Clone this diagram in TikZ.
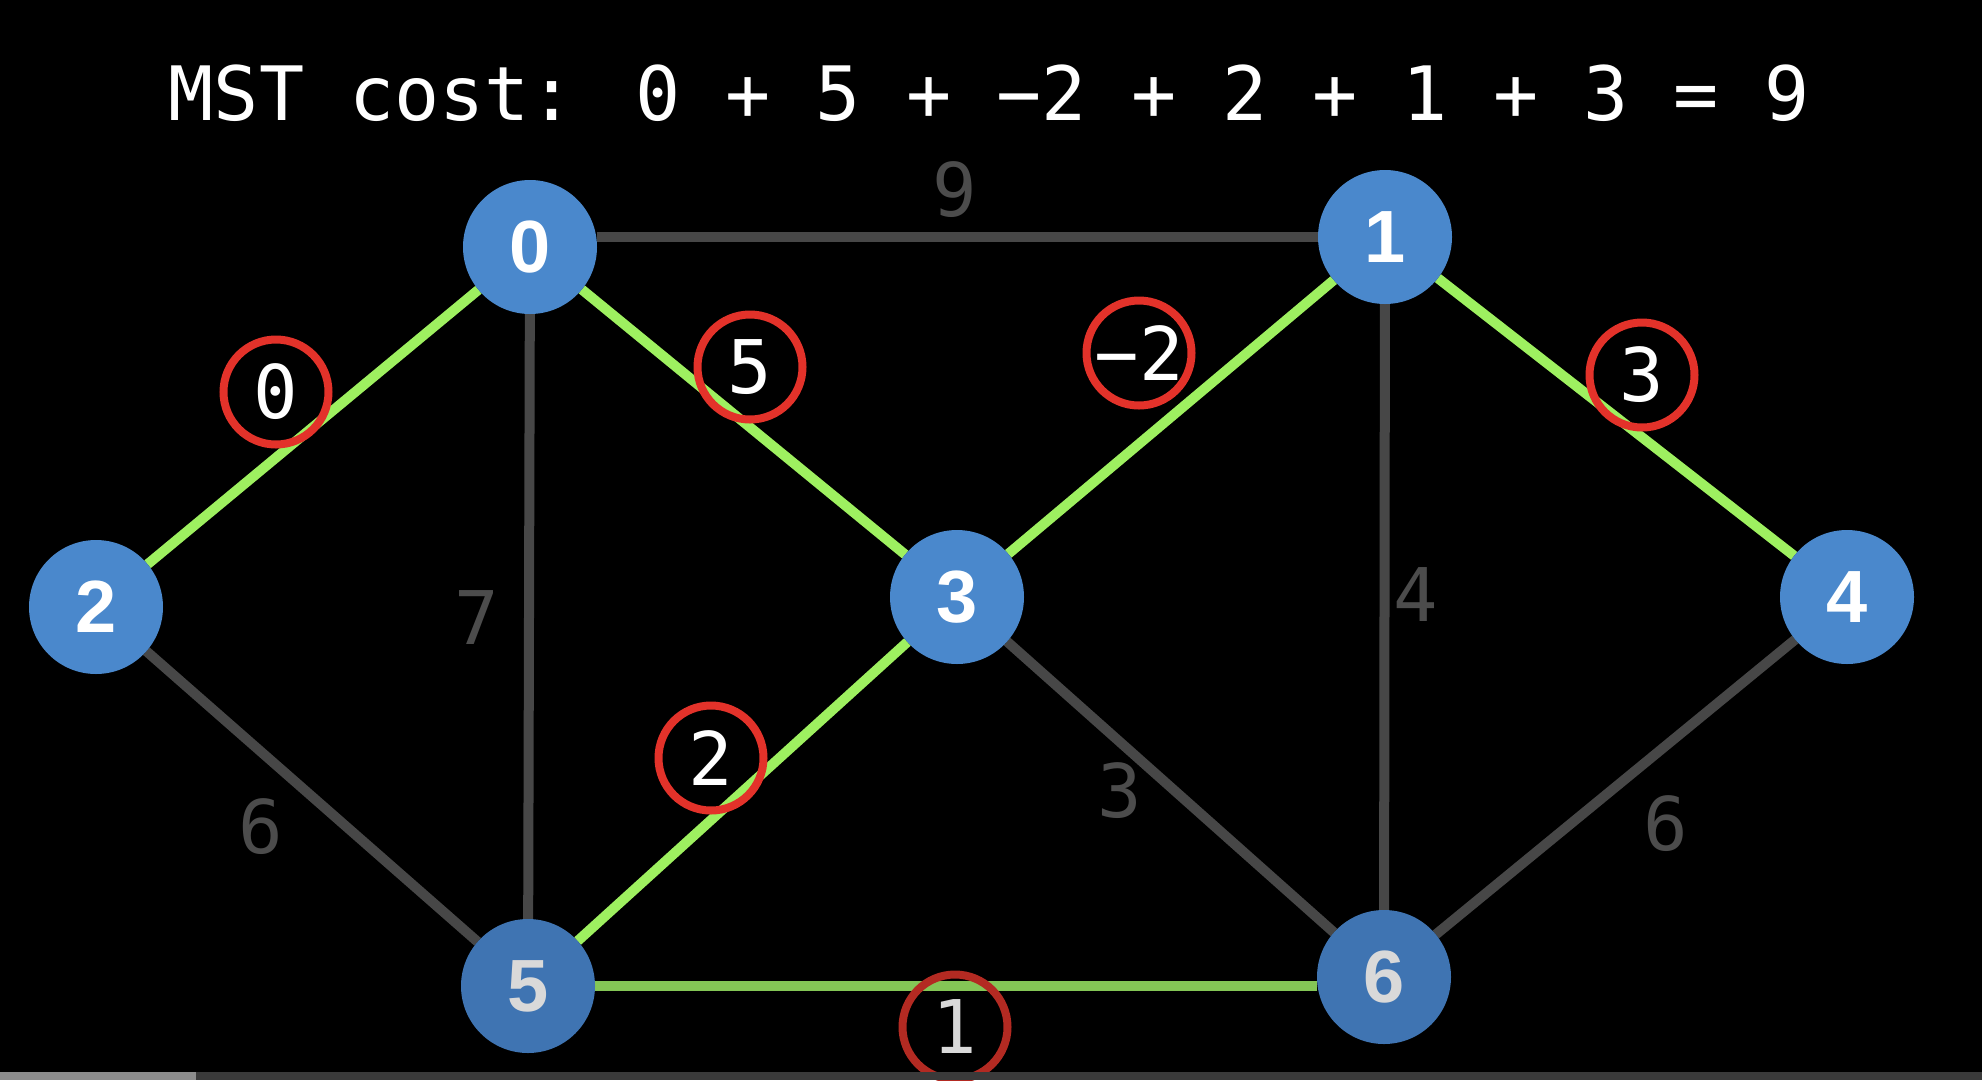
\documentclass[tikz,border=0pt]{standalone}
\usepackage{fontspec}
\newfontfamily\monofont{DejaVu Sans Mono}
\newfontfamily\nodefont{Liberation Sans}
\definecolor{nodeblue}{HTML}{4A88CC}
\definecolor{nodeblued}{HTML}{3F74B2}
\definecolor{edgegray}{HTML}{474747}
\definecolor{labelgray}{HTML}{4C4C4C}
\definecolor{mstgreen}{HTML}{9EF060}
\definecolor{mstgreend}{HTML}{84C656}
\definecolor{ringred}{HTML}{E3322A}
\definecolor{ringredd}{HTML}{B32A22}
\definecolor{barlight}{HTML}{8C8C8C}
\definecolor{bardark}{HTML}{3A3A3A}
\pgfdeclarelayer{bg}
\pgfdeclarelayer{edges}
\pgfsetlayers{bg,edges,main}
\begin{document}
\begin{tikzpicture}[x=1pt,y=-1pt,
  vert/.style={circle, fill=nodeblue, minimum size=134, inner sep=0, outer sep=0,
    text=white, font=\nodefont\bfseries\fontsize{74}{74}\selectfont},
  vertd/.style={vert, fill=nodeblued, text=white!85!black},
  graybar/.style={draw=edgegray, line width=10},
  greenbar/.style={draw=mstgreen, line width=10},
  wlabel/.style={inner sep=0, text=labelgray, font=\monofont\fontsize{74}{74}\selectfont},
  ring/.style={circle, draw=ringred, line width=8, minimum size=105, inner sep=0,
    text=white, font=\monofont\fontsize{74}{74}\selectfont},
  title/.style={inner sep=0, text=white, font=\monofont\fontsize{75}{75}\selectfont}]
\useasboundingbox (0,0) rectangle (1982,1080);
\begin{pgfonlayer}{bg}
  \fill[black] (0,0) rectangle (1982,1080);
\end{pgfonlayer}

\node[title, anchor=base] (ttl) at (989,120) {MST cost: 0 + 5 + −2 + 2 + 1 + 3 = 9};

\node[vert]  (n0) at (530,247) {0};
\node[vert]  (n1) at (1385,237) {1};
\node[vert]  (n2) at (96,607) {2};
\node[vert]  (n3) at (957,597) {3};
\node[vert]  (n4) at (1847,597) {4};
\node[vertd] (n5) at (528,986) {5};
\node[vertd] (n6) at (1384,977) {6};

\begin{pgfonlayer}{edges}
  \draw[graybar] (n0.east |- n1) -- (n1);
  \draw[graybar] (n0) -- (n5);
  \draw[graybar] (n2) -- (n5);
  \draw[graybar] (n3) -- (n6);
  \draw[graybar] (n1) -- (n6);
  \draw[graybar] (n4) -- (n6);
  \draw[greenbar] (n0) -- (n2);
  \draw[greenbar] (n0) -- (n3);
  \draw[greenbar] (n1) -- (n3);
  \draw[greenbar] (n1) -- (n4);
  \draw[greenbar] (n3) -- (n5);
  \draw[greenbar, draw=mstgreend] (n5) -- (n5 -| n6.west);
\end{pgfonlayer}

\node[wlabel] (w01) at (955,190) {9};
\node[wlabel] (w05) at (477,618) {7};
\node[wlabel] (w25) at (261,827) {6};
\node[wlabel] (w36) at (1120,791) {3};
\node[wlabel] (w16) at (1416,595) {4};
\node[wlabel] (w46) at (1666,824) {6};

\node[ring] (r02) at (276,392) {0};
\node[ring] (r03) at (750,367) {5};
\node[ring] (r13) at (1139,353) {−2};
\node[ring] (r14) at (1642,375) {3};
\node[ring] (r35) at (711,758) {2};
\node[ring, draw=ringredd, text=white!85!black] (r56) at (955,1027) {1};

\fill[barlight] (0,1072) rectangle (196,1080);
\fill[bardark] (196,1072) rectangle (1982,1080);
\end{tikzpicture}
\end{document}
